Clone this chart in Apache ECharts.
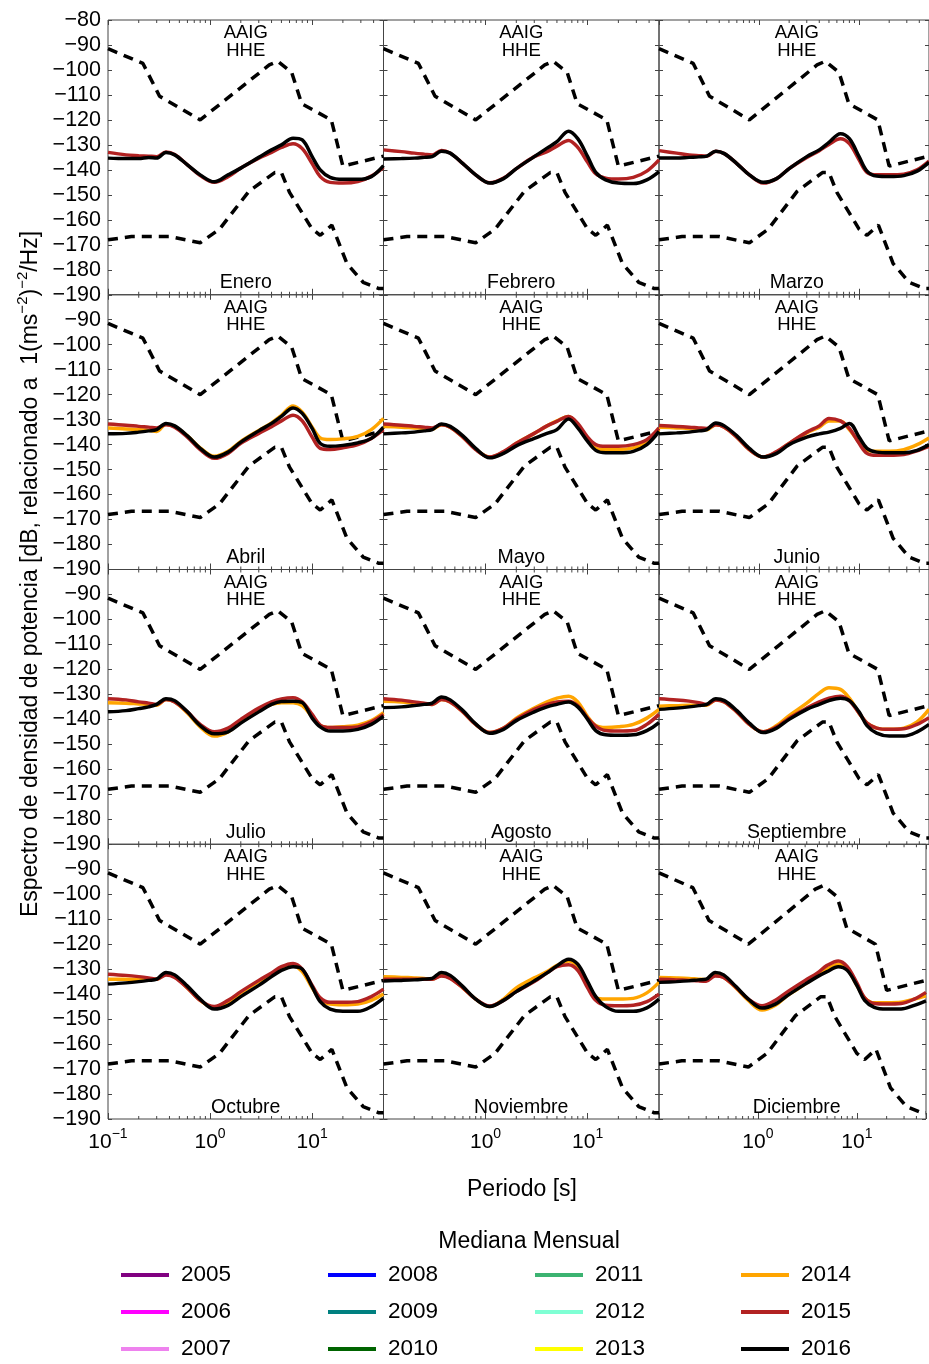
<!DOCTYPE html>
<html><head><meta charset="utf-8">
<script src="https://cdn.jsdelivr.net/npm/echarts@6/dist/echarts.min.js"></script>
<style>html,body{margin:0;padding:0;background:#fff}#c{width:929px;height:1364px}</style>
</head><body><div id="c"></div><script>
// ---------------- DATA ----------------
const MONTHS = ['Enero','Febrero','Marzo','Abril','Mayo','Junio','Julio','Agosto','Septiembre','Octubre','Noviembre','Diciembre'];
const STATION = 'AAIG';
const CHANNEL = 'HHE';
const YEARS = ['2005','2006','2007','2008','2009','2010','2011','2012','2013','2014','2015','2016'];
const YEAR_COLORS = ['#800080','#ff00ff','#ee82ee','#0000ff','#008080','#006400','#3cb371','#7fffd4','#ffff00','#ffa500','#b22222','#000000'];
const Y_TICKS_MIN = -190, Y_TICKS_MAX = -80, Y_STEP = 10;
const X_MIN = 0.1, X_MAX = 50;

// New High / Low Noise Models (breakpoints, dB)
const NHNM_P  = [0.1, 0.22, 0.32, 0.8, 3.8, 4.6, 6.3, 7.9, 15.4, 20, 50];
const NHNM_DB = [-91.5, -97.4, -110.5, -120.0, -98.0, -96.5, -101.0, -113.5, -120.0, -138.5, -134.5];
const NLNM_P  = [0.1, 0.17, 0.4, 0.8, 1.24, 2.4, 4.3, 5.0, 6.0, 10, 12, 15.6, 21.9, 31.6, 45, 50];
const NLNM_DB = [-168.0, -166.7, -166.7, -169.2, -163.7, -148.6, -141.1, -141.1, -149.0, -163.7, -166.2, -162.1, -177.5, -185.0, -187.5, -187.5];

// period samples for the monthly medians
const PERIODS = [0.1, 0.15, 0.2, 0.25, 0.3, 0.37, 0.45, 0.6, 0.8, 1.1, 1.5, 2, 3, 4, 5, 6.5, 8, 10, 12, 15, 20, 28, 38, 50];

const Y2016 = [
 [-135.3,-135.5,-135.5,-135.0,-135.3,-133.0,-134.0,-138.0,-142.0,-144.8,-142.0,-139.3,-135.0,-132.0,-130.0,-127.3,-128.0,-134.7,-140.0,-143.0,-143.8,-143.8,-142.7,-138.3],
 [-135.7,-135.5,-135.3,-135.0,-134.7,-132.5,-133.3,-137.5,-142.0,-145.3,-143.5,-139.5,-134.7,-131.3,-128.7,-124.5,-127.5,-134.7,-141.0,-144.0,-145.3,-145.5,-144.0,-140.7],
 [-135.3,-135.3,-135.0,-134.8,-134.5,-132.5,-133.5,-137.5,-142.0,-145.0,-143.5,-139.5,-134.7,-132.0,-129.0,-125.5,-127.5,-134.7,-140.5,-142.5,-142.7,-142.3,-140.5,-137.0],
 [-135.7,-135.5,-135.0,-134.5,-134.0,-131.5,-132.5,-136.5,-141.5,-145.0,-143.0,-139.0,-134.5,-131.5,-128.7,-125.3,-127.5,-133.5,-139.5,-140.7,-140.3,-139.3,-137.5,-133.0],
 [-135.7,-135.3,-135.0,-134.5,-134.0,-131.7,-132.7,-136.5,-141.5,-145.3,-143.5,-140.5,-137.5,-135.5,-134.0,-129.7,-133.3,-138.7,-142.3,-143.3,-143.3,-142.7,-140.0,-134.7],
 [-135.7,-135.3,-135.0,-134.5,-134.0,-131.3,-132.5,-136.5,-141.5,-145.0,-143.5,-140.0,-137.0,-135.7,-135.0,-133.5,-131.5,-137.0,-141.5,-143.0,-143.3,-143.3,-142.3,-140.0],
 [-137.0,-136.5,-135.7,-135.0,-134.0,-131.7,-132.5,-137.0,-142.5,-145.8,-145.0,-141.5,-137.0,-134.0,-132.8,-132.7,-133.3,-139.5,-143.0,-144.7,-144.7,-144.0,-142.0,-138.7],
 [-135.3,-135.0,-134.5,-134.0,-133.5,-131.0,-132.2,-136.5,-141.8,-145.6,-144.0,-140.5,-137.0,-135.0,-134.0,-133.0,-135.0,-140.0,-144.5,-146.2,-146.4,-146.2,-144.5,-141.3],
 [-136.0,-135.5,-135.0,-134.5,-134.0,-131.7,-132.5,-136.5,-141.5,-145.3,-143.5,-140.0,-136.0,-134.0,-132.5,-131.5,-132.5,-137.0,-142.5,-145.5,-146.7,-146.7,-145.0,-142.0],
 [-136.0,-135.5,-135.0,-134.5,-134.0,-131.3,-132.3,-136.8,-142.0,-146.0,-144.5,-141.0,-136.5,-133.0,-130.5,-129.0,-130.0,-137.0,-143.0,-146.0,-146.9,-146.9,-145.0,-141.6],
 [-134.7,-134.5,-134.3,-134.0,-133.7,-131.3,-132.5,-137.0,-142.0,-145.0,-142.5,-139.0,-134.7,-131.5,-128.7,-126.0,-128.0,-135.0,-141.0,-145.0,-146.9,-146.9,-145.5,-142.0],
 [-135.3,-135.0,-134.7,-134.3,-134.0,-131.3,-132.3,-137.0,-142.0,-145.6,-144.0,-140.5,-136.0,-133.0,-131.0,-129.0,-130.5,-136.5,-142.5,-145.3,-146.0,-146.0,-144.5,-142.7]
];
const Y2015 = [
 [-133.0,-134.0,-134.3,-134.5,-134.7,-132.8,-133.8,-138.0,-142.3,-145.0,-142.7,-139.3,-135.3,-133.0,-131.0,-129.5,-131.5,-137.5,-142.7,-145.0,-145.3,-144.7,-142.5,-139.0],
 [-132.0,-132.7,-133.3,-133.7,-134.0,-132.2,-133.3,-137.5,-142.0,-145.2,-143.3,-139.5,-134.7,-132.7,-130.5,-128.2,-131.0,-137.0,-141.5,-143.3,-143.7,-143.0,-140.5,-136.0],
 [-132.3,-133.3,-134.0,-134.3,-134.5,-132.5,-133.5,-137.5,-142.0,-145.3,-143.5,-139.5,-135.0,-132.3,-129.8,-127.5,-129.5,-136.0,-141.0,-142.0,-142.0,-141.7,-140.0,-136.5],
 [-131.7,-132.2,-132.7,-133.0,-133.3,-132.0,-133.0,-137.0,-142.0,-145.5,-143.5,-139.5,-135.5,-132.8,-130.5,-128.2,-130.5,-137.0,-141.5,-142.0,-141.3,-140.0,-137.5,-134.0],
 [-131.7,-132.2,-132.7,-133.0,-133.3,-132.0,-133.0,-137.0,-142.0,-145.0,-142.8,-139.5,-135.5,-132.5,-130.7,-128.7,-131.5,-137.0,-140.0,-140.7,-140.7,-140.0,-138.0,-133.3],
 [-132.3,-132.7,-133.0,-133.3,-133.5,-132.0,-133.0,-137.0,-142.0,-145.0,-142.8,-139.5,-135.0,-132.5,-129.5,-130.5,-133.5,-139.5,-143.5,-144.3,-144.3,-144.0,-142.5,-140.7],
 [-131.7,-132.2,-133.0,-133.5,-134.0,-132.0,-133.0,-137.0,-142.0,-145.0,-143.5,-140.0,-135.5,-133.0,-131.8,-131.3,-133.0,-138.0,-142.3,-143.3,-143.3,-143.0,-141.0,-138.0],
 [-131.7,-132.3,-133.0,-133.5,-134.0,-132.0,-133.0,-137.0,-142.0,-145.3,-143.5,-140.0,-136.0,-134.0,-133.0,-132.7,-134.5,-139.5,-142.7,-144.5,-144.7,-144.5,-142.0,-138.0],
 [-131.7,-132.2,-132.7,-133.3,-134.0,-132.2,-133.0,-137.0,-142.0,-145.0,-143.0,-139.5,-135.5,-133.0,-131.5,-130.7,-132.5,-137.5,-141.5,-143.5,-144.0,-143.8,-142.0,-139.3],
 [-132.0,-132.5,-133.0,-133.5,-134.0,-132.3,-133.3,-137.5,-142.5,-145.0,-142.5,-139.0,-134.5,-131.5,-129.0,-127.7,-130.0,-136.5,-141.5,-143.3,-143.3,-143.0,-141.0,-138.0],
 [-134.0,-134.0,-134.0,-134.0,-134.0,-132.7,-133.7,-137.5,-142.0,-144.8,-142.5,-139.0,-135.0,-131.5,-129.0,-128.2,-130.5,-137.5,-142.5,-144.5,-144.7,-144.5,-143.0,-140.0],
 [-134.0,-134.3,-134.5,-134.7,-134.8,-132.7,-133.3,-137.3,-142.0,-144.7,-142.5,-139.0,-134.5,-131.5,-128.5,-126.7,-129.0,-135.5,-141.5,-143.8,-144.0,-143.8,-142.0,-139.3]
];
const Y2014 = [
 null, null, null,
 [-133.3,-133.7,-134.0,-134.3,-134.7,-131.8,-132.8,-136.5,-141.3,-144.7,-142.7,-138.7,-134.3,-131.3,-128.3,-124.5,-127.0,-133.0,-137.3,-138.0,-137.7,-136.7,-134.0,-129.5],
 [-132.7,-133.0,-133.3,-133.5,-133.8,-132.0,-133.0,-137.0,-141.8,-145.0,-143.0,-139.5,-135.5,-132.5,-130.5,-128.7,-132.0,-138.0,-141.5,-142.0,-142.0,-141.3,-139.0,-134.0],
 [-133.0,-133.3,-133.5,-133.7,-134.0,-132.0,-133.0,-137.0,-142.0,-145.0,-143.0,-139.5,-135.3,-133.0,-130.5,-130.5,-134.0,-139.0,-142.3,-142.7,-142.7,-142.0,-140.0,-137.3],
 [-133.3,-133.5,-133.8,-134.0,-134.3,-132.0,-133.0,-137.5,-143.0,-146.7,-145.0,-141.0,-136.5,-134.0,-133.3,-133.3,-134.5,-139.0,-142.5,-143.3,-143.0,-142.3,-140.5,-137.3],
 [-132.7,-133.0,-133.3,-133.7,-134.0,-132.0,-133.0,-137.0,-142.0,-145.3,-143.5,-139.5,-135.5,-133.0,-131.5,-130.7,-133.0,-139.0,-142.5,-143.3,-143.0,-142.0,-139.5,-136.0],
 [-134.7,-134.5,-134.3,-134.3,-134.3,-132.2,-133.0,-137.0,-142.0,-145.0,-142.5,-138.5,-133.5,-129.5,-127.3,-128.0,-131.5,-137.5,-141.5,-143.5,-144.0,-143.5,-141.0,-136.0],
 [-134.0,-134.0,-134.0,-134.0,-134.0,-132.0,-133.0,-137.5,-142.5,-145.5,-143.5,-139.5,-135.0,-132.0,-129.5,-128.7,-131.0,-137.5,-142.0,-144.0,-144.3,-144.0,-142.5,-140.0],
 [-133.0,-133.3,-133.5,-133.7,-134.0,-132.5,-133.5,-137.5,-142.0,-145.0,-142.0,-137.5,-133.5,-131.0,-128.5,-126.7,-129.0,-136.0,-141.5,-142.0,-142.0,-141.7,-139.5,-135.3],
 [-133.3,-133.5,-133.7,-134.0,-134.2,-132.3,-133.3,-137.5,-142.5,-146.4,-144.5,-140.5,-136.0,-132.5,-130.0,-128.0,-130.0,-136.5,-141.5,-143.5,-143.5,-143.3,-142.0,-140.7]
];

// ---------------- LAYOUT ----------------
const FONT = "'Liberation Sans', Arial, Helvetica, sans-serif";
const COL_L = [108, 383.5, 659];
const ROW_T = [20, 294.75, 569.5, 844.25];
const PW = 275.5, PH = 274.75;
const AXC = '#444';

const chart = echarts.init(document.getElementById('c'), null, {renderer: 'canvas'});

const pairs = (xs, ys) => xs.map((x, k) => [x, ys[k]]);
const minorTicks = [];
for (let d = -1; d <= 1; d++) for (let k = 2; k <= 9; k++) { const v = k * Math.pow(10, d); if (v < X_MAX) minorTicks.push([v, Y_TICKS_MIN]); }

const grids = [], xAxes = [], yAxes = [], series = [], graphics = [];
const supRich = {
  b: {fontSize: 21, fontFamily: FONT, color: '#000', lineHeight: 22, padding: [8, 0, 0, 0]},
  s: {fontSize: 14, fontFamily: FONT, color: '#000', lineHeight: 16, verticalAlign: 'top'}
};
const titleRich = {
  b: {fontSize: 23, fontFamily: FONT, color: '#000', lineHeight: 24, padding: [8, 0, 0, 0]},
  s: {fontSize: 15, fontFamily: FONT, color: '#000', lineHeight: 16, verticalAlign: 'top'}
};

for (let i = 0; i < 12; i++) {
  const r = Math.floor(i / 3), c = i % 3;
  grids.push({left: COL_L[c], top: ROW_T[r], width: PW, height: PH, show: true,
    borderColor: AXC, borderWidth: 1, backgroundColor: 'transparent'});
  xAxes.push({
    type: 'log', logBase: 10, gridIndex: i, min: X_MIN, max: X_MAX,
    axisLine: {show: false}, splitLine: {show: false},
    axisTick: {show: true, inside: true, length: 6, lineStyle: {color: AXC}},
    axisLabel: {show: r === 3, margin: 8, rich: supRich,
      formatter: (v) => {
        const e = Math.log10(v), re = Math.round(e);
        if (Math.abs(e - re) > 1e-6) return '';
        if (c > 0 && re === -1) return '';
        return '{b|10}{s|' + (re < 0 ? '\u2212' : '') + Math.abs(re) + '}';
      }}
  });
  yAxes.push({
    type: 'value', gridIndex: i, min: Y_TICKS_MIN, max: Y_TICKS_MAX, interval: Y_STEP,
    axisLine: {show: false}, splitLine: {show: false},
    axisTick: {show: true, inside: true, length: 4, lineStyle: {color: AXC}},
    axisLabel: {show: c === 0, margin: 7, fontSize: 21.5, fontFamily: FONT, color: '#000',
      formatter: (v) => (r > 0 && v === -80) ? '' : (v < 0 ? '\u2212' + Math.abs(v) : String(v))}
  });
}
for (let i = 0; i < 12; i++) {
  xAxes.push({type: 'log', logBase: 10, gridIndex: i, position: 'top', min: X_MIN, max: X_MAX,
    axisLine: {show: false}, splitLine: {show: false}, axisLabel: {show: false},
    axisTick: {show: true, inside: true, length: 5, lineStyle: {color: AXC}}});
  yAxes.push({type: 'value', gridIndex: i, position: 'right', min: Y_TICKS_MIN, max: Y_TICKS_MAX, interval: Y_STEP,
    axisLine: {show: false}, splitLine: {show: false}, axisLabel: {show: false},
    axisTick: {show: true, inside: true, length: 4, lineStyle: {color: AXC}}});
}

const lineSeries = (name, data, i, color, width, dashed) => ({
  type: 'line', name: name, xAxisIndex: i, yAxisIndex: i, data: data,
  showSymbol: false, symbol: 'none', smooth: dashed ? false : 0.35, silent: true,
  color: color, itemStyle: {color: color},
  lineStyle: {color: color, width: width, type: dashed ? [10, 7] : 'solid', cap: 'butt'},
  emphasis: {disabled: true}, z: dashed ? 2 : 3
});

for (let i = 0; i < 12; i++) {
  series.push(lineSeries('NHNM', pairs(NHNM_P, NHNM_DB), i, '#000', 3.5, true));
  series.push(lineSeries('NLNM', pairs(NLNM_P, NLNM_DB), i, '#000', 3.5, true));
  if (Y2014[i]) series.push(lineSeries('2014', pairs(PERIODS, Y2014[i]), i, YEAR_COLORS[9], 3.5, false));
  series.push(lineSeries('2015', pairs(PERIODS, Y2015[i]), i, YEAR_COLORS[10], 3.5, false));
  series.push(lineSeries('2016', pairs(PERIODS, Y2016[i]), i, YEAR_COLORS[11], 3.5, false));
  series.push({
    type: 'custom', xAxisIndex: i, yAxisIndex: i, data: minorTicks, silent: true, clip: false,
    renderItem: (params, api) => {
      const p = api.value(0);
      const b = api.coord([p, Y_TICKS_MIN]);
      const t = api.coord([p, Y_TICKS_MAX]);
      return {type: 'group', children: [
        {type: 'line', shape: {x1: b[0], y1: b[1], x2: b[0], y2: b[1] - 3}, style: {stroke: AXC, lineWidth: 1}},
        {type: 'line', shape: {x1: t[0], y1: t[1], x2: t[0], y2: t[1] + 3}, style: {stroke: AXC, lineWidth: 1}}
      ]};
    }
  });
  const r = Math.floor(i / 3), c = i % 3;
  const cx = COL_L[c] + PW / 2;
  const txt = (s, y, fs) => ({type: 'text', x: cx, y: y, silent: true,
    style: {text: s, fill: '#000', font: fs + 'px ' + FONT, textAlign: 'center', textVerticalAlign: 'middle'}});
  graphics.push(txt(STATION, ROW_T[r] + 13, 18.5));
  graphics.push(txt(CHANNEL, ROW_T[r] + 30.5, 18.5));
  graphics.push(txt(MONTHS[i], ROW_T[r] + 263, 19.5));
}
// empty series so that every year appears in the legend
for (let k = 0; k < 9; k++) series.push(lineSeries(YEARS[k], [], 0, YEAR_COLORS[k], 3, false));

graphics.push({type: 'text', x: 522, y: 1190, silent: true,
  style: {text: 'Periodo [s]', fill: '#000', font: '23px ' + FONT, textAlign: 'center', textVerticalAlign: 'middle'}});
graphics.push({type: 'text', x: 529, y: 1242, silent: true,
  style: {text: 'Mediana Mensual', fill: '#000', font: '23px ' + FONT, textAlign: 'center', textVerticalAlign: 'middle'}});
graphics.push({type: 'text', x: 27, y: 574, rotation: Math.PI / 2, silent: true,
  style: {text: '{b|Espectro de densidad de potencia [dB, relacionado a  1(ms}{s|\u22122}{b|)}{s|\u22122}{b|/Hz]}',
    rich: titleRich, textAlign: 'center', textVerticalAlign: 'middle', fill: '#000'}});

const LEG_X = [121, 328, 535, 741];
const legends = LEG_X.map((x, k) => ({
  orient: 'vertical', left: x, top: 1263, itemWidth: 48, itemHeight: 4, itemGap: 13,
  icon: 'rect', selectedMode: false, padding: 0,
  textStyle: {fontSize: 22.5, fontFamily: FONT, color: '#000', lineHeight: 24, padding: [0, 0, 0, 7]},
  data: YEARS.slice(k * 3, k * 3 + 3)
}));

chart.setOption({
  animation: false,
  backgroundColor: '#fff',
  textStyle: {fontFamily: FONT},
  grid: grids, xAxis: xAxes, yAxis: yAxes,
  legend: legends,
  series: series,
  graphic: graphics
});
</script></body></html>
